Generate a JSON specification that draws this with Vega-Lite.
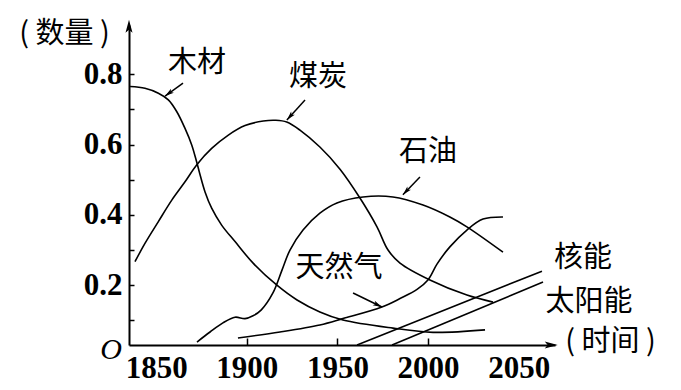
{
  "$schema": "https://vega.github.io/schema/vega-lite/v6.json",
  "width": 426,
  "height": 320,
  "autosize": {"type": "none"},
  "padding": {"left": 129, "top": 25, "right": 126, "bottom": 45},
  "background": "white",
  "config": {"view": {"stroke": null}},
  "datasets": {
    "curves": [
      {"s": "木材", "year": 1835.6, "v": 0.765},
      {"s": "木材", "year": 1843.8, "v": 0.76},
      {"s": "木材", "year": 1851.2, "v": 0.746},
      {"s": "木材", "year": 1856.7, "v": 0.727},
      {"s": "木材", "year": 1861.3, "v": 0.694},
      {"s": "木材", "year": 1865.9, "v": 0.646},
      {"s": "木材", "year": 1869.6, "v": 0.599},
      {"s": "木材", "year": 1872.3, "v": 0.551},
      {"s": "木材", "year": 1874.2, "v": 0.514},
      {"s": "木材", "year": 1876.9, "v": 0.466},
      {"s": "木材", "year": 1880.6, "v": 0.419},
      {"s": "木材", "year": 1886.1, "v": 0.371},
      {"s": "木材", "year": 1893.5, "v": 0.324},
      {"s": "木材", "year": 1903.6, "v": 0.262},
      {"s": "木材", "year": 1916.6, "v": 0.2},
      {"s": "木材", "year": 1927.7, "v": 0.158},
      {"s": "木材", "year": 1940.3, "v": 0.124},
      {"s": "木材", "year": 1953, "v": 0.101},
      {"s": "木材", "year": 1980.6, "v": 0.078},
      {"s": "木材", "year": 2002.7, "v": 0.066},
      {"s": "木材", "year": 2031.4, "v": 0.073},
      {"s": "煤炭", "year": 1838.3, "v": 0.267},
      {"s": "煤炭", "year": 1843.8, "v": 0.319},
      {"s": "煤炭", "year": 1851.2, "v": 0.381},
      {"s": "煤炭", "year": 1858.6, "v": 0.442},
      {"s": "煤炭", "year": 1865.9, "v": 0.494},
      {"s": "煤炭", "year": 1872.3, "v": 0.542},
      {"s": "煤炭", "year": 1880.6, "v": 0.589},
      {"s": "煤炭", "year": 1889.8, "v": 0.627},
      {"s": "煤炭", "year": 1899, "v": 0.654},
      {"s": "煤炭", "year": 1909.1, "v": 0.667},
      {"s": "煤炭", "year": 1916, "v": 0.669},
      {"s": "煤炭", "year": 1922, "v": 0.664},
      {"s": "煤炭", "year": 1929.3, "v": 0.641},
      {"s": "煤炭", "year": 1940.3, "v": 0.593},
      {"s": "煤炭", "year": 1951.4, "v": 0.53},
      {"s": "煤炭", "year": 1962.4, "v": 0.448},
      {"s": "煤炭", "year": 1971.8, "v": 0.366},
      {"s": "煤炭", "year": 1977.9, "v": 0.3},
      {"s": "煤炭", "year": 1984.5, "v": 0.263},
      {"s": "煤炭", "year": 2001, "v": 0.215},
      {"s": "煤炭", "year": 2021.4, "v": 0.172},
      {"s": "煤炭", "year": 2035.8, "v": 0.152},
      {"s": "石油", "year": 1872.5, "v": 0.0385},
      {"s": "石油", "year": 1879.7, "v": 0.067},
      {"s": "石油", "year": 1886.8, "v": 0.093},
      {"s": "石油", "year": 1893.5, "v": 0.109},
      {"s": "石油", "year": 1899, "v": 0.105},
      {"s": "石油", "year": 1903.4, "v": 0.113},
      {"s": "石油", "year": 1908, "v": 0.13},
      {"s": "石油", "year": 1914.4, "v": 0.178},
      {"s": "石油", "year": 1919.4, "v": 0.243},
      {"s": "石油", "year": 1923.8, "v": 0.3},
      {"s": "石油", "year": 1931, "v": 0.357},
      {"s": "石油", "year": 1940.3, "v": 0.405},
      {"s": "石油", "year": 1949.7, "v": 0.434},
      {"s": "石油", "year": 1964.1, "v": 0.451},
      {"s": "石油", "year": 1980.6, "v": 0.451},
      {"s": "石油", "year": 1997.2, "v": 0.428},
      {"s": "石油", "year": 2012, "v": 0.394},
      {"s": "石油", "year": 2021.4, "v": 0.366},
      {"s": "石油", "year": 2041.3, "v": 0.294},
      {"s": "天然气", "year": 1895.1, "v": 0.05},
      {"s": "天然气", "year": 1918.3, "v": 0.067},
      {"s": "天然气", "year": 1940.3, "v": 0.087},
      {"s": "天然气", "year": 1953, "v": 0.105},
      {"s": "天然气", "year": 1974.5, "v": 0.138},
      {"s": "天然气", "year": 1984.5, "v": 0.162},
      {"s": "天然气", "year": 1993.9, "v": 0.188},
      {"s": "天然气", "year": 1999.9, "v": 0.215},
      {"s": "天然气", "year": 2004.9, "v": 0.26},
      {"s": "天然气", "year": 2012, "v": 0.309},
      {"s": "天然气", "year": 2021.4, "v": 0.357},
      {"s": "天然气", "year": 2030.3, "v": 0.388},
      {"s": "天然气", "year": 2041.3, "v": 0.394},
      {"s": "核能", "year": 1960.8, "v": 0.03},
      {"s": "核能", "year": 2062.8, "v": 0.24},
      {"s": "太阳能", "year": 1980.1, "v": 0.03},
      {"s": "太阳能", "year": 2063.4, "v": 0.209}
    ],
    "annot": [
      {"name": "木材", "year": 1864.8, "v": 0.775, "year2": 1854.9, "v2": 0.738},
      {"name": "煤炭", "year": 1932.1, "v": 0.727, "year2": 1922.1, "v2": 0.67},
      {"name": "石油", "year": 1995.5, "v": 0.508, "year2": 1986.1, "v2": 0.457},
      {"name": "天然气", "year": 1958.6, "v": 0.178, "year2": 1974.5, "v2": 0.138}
    ],
    "labels": [
      {"text": "木材", "year": 1872.5, "v": 0.832},
      {"text": "煤炭", "year": 1939.2, "v": 0.792},
      {"text": "石油", "year": 1999.9, "v": 0.579},
      {"text": "天然气", "year": 1950.8, "v": 0.249},
      {"text": "核能", "year": 2085.4, "v": 0.277},
      {"text": "太阳能", "year": 2088.7, "v": 0.152}
    ],
    "axisheads": [
      {"axis": "y", "year": 1835, "v": 0.955},
      {"axis": "x", "year": 2071.5, "v": 0.03}
    ],
    "origin": [{"text": "O", "year": 1825.1, "v": 0.016}]
  },
  "layer": [
    {
      "data": {"name": "curves"},
      "mark": {"type": "line", "interpolate": "catmull-rom", "color": "black", "strokeWidth": 1.6},
      "encoding": {
        "x": {
          "field": "year", "type": "quantitative",
          "scale": {"domain": [1835, 2070], "nice": false, "zero": false},
          "axis": {
            "values": [1850, 1900, 1950, 2000, 2050],
            "format": "d",
            "grid": false,
            "labelFont": "Liberation Serif", "labelFontSize": 31, "labelFontWeight": "bold", "labelColor": "black",
            "labelPadding": 15, "labelFlush": false, "labelOverlap": false,
            "domainColor": "black", "domainWidth": 2,
            "tickColor": "black", "tickWidth": 1.5, "tickSize": -7,
            "tickOpacity": {"condition": {"test": "datum.value == 1850 || datum.value == 2050", "value": 0}, "value": 1},
            "title": "( 时间 )",
            "titleFont": "Noto Sans CJK SC", "titleFontSize": 29, "titleFontWeight": "normal", "titleColor": "black",
            "titleX": 481, "titleY": -4, "titleAlign": "center", "titleBaseline": "middle"
          }
        },
        "y": {
          "field": "v", "type": "quantitative",
          "scale": {"domain": [0.03, 0.94], "nice": false, "zero": false},
          "axis": {
            "values": [0.1, 0.2, 0.3, 0.4, 0.5, 0.6, 0.7, 0.8],
            "format": ".1f",
            "labelExpr": "indexof(['0.2','0.4','0.6','0.8'], datum.label) >= 0 ? datum.label : ''",
            "grid": false,
            "labelFont": "Liberation Serif", "labelFontSize": 31, "labelFontWeight": "bold", "labelColor": "black",
            "labelPadding": 12, "labelOverlap": false,
            "domainColor": "black", "domainWidth": 2,
            "tickColor": "black", "tickWidth": 1.5, "tickSize": -5,
            "title": "( 数量 )",
            "titleFont": "Noto Sans CJK SC", "titleFontSize": 29, "titleFontWeight": "normal", "titleColor": "black",
            "titleAngle": 0, "titleX": -65, "titleY": 8, "titleAlign": "center", "titleBaseline": "middle"
          }
        },
        "detail": {"field": "s"}
      }
    },
    {
      "data": {"name": "annot"},
      "mark": {"type": "rule", "color": "black", "strokeWidth": 1.5},
      "encoding": {
        "x": {"field": "year", "type": "quantitative"},
        "y": {"field": "v", "type": "quantitative"},
        "x2": {"field": "year2"},
        "y2": {"field": "v2"}
      }
    },
    {
      "data": {"name": "annot"},
      "transform": [{"filter": "datum.name == '木材'"}],
      "mark": {"type": "point", "shape": "M0,0L-0.7,2.6L0,2L0.7,2.6Z", "filled": true, "color": "black", "opacity": 1, "size": 49, "angle": 234},
      "encoding": {"x": {"field": "year2", "type": "quantitative"}, "y": {"field": "v2", "type": "quantitative"}}
    },
    {
      "data": {"name": "annot"},
      "transform": [{"filter": "datum.name == '煤炭'"}],
      "mark": {"type": "point", "shape": "M0,0L-0.7,2.6L0,2L0.7,2.6Z", "filled": true, "color": "black", "opacity": 1, "size": 49, "angle": 222},
      "encoding": {"x": {"field": "year2", "type": "quantitative"}, "y": {"field": "v2", "type": "quantitative"}}
    },
    {
      "data": {"name": "annot"},
      "transform": [{"filter": "datum.name == '石油'"}],
      "mark": {"type": "point", "shape": "M0,0L-0.7,2.6L0,2L0.7,2.6Z", "filled": true, "color": "black", "opacity": 1, "size": 49, "angle": 223},
      "encoding": {"x": {"field": "year2", "type": "quantitative"}, "y": {"field": "v2", "type": "quantitative"}}
    },
    {
      "data": {"name": "annot"},
      "transform": [{"filter": "datum.name == '天然气'"}],
      "mark": {"type": "point", "shape": "M0,0L-0.7,2.6L0,2L0.7,2.6Z", "filled": true, "color": "black", "opacity": 1, "size": 49, "angle": 116},
      "encoding": {"x": {"field": "year2", "type": "quantitative"}, "y": {"field": "v2", "type": "quantitative"}}
    },
    {
      "data": {"name": "axisheads"},
      "transform": [{"filter": "datum.axis == 'y'"}],
      "mark": {"type": "point", "shape": "M0,0L-0.7,2.6L0,2L0.7,2.6Z", "filled": true, "color": "black", "opacity": 1, "size": 100, "angle": 0},
      "encoding": {"x": {"field": "year", "type": "quantitative"}, "y": {"field": "v", "type": "quantitative"}}
    },
    {
      "data": {"name": "axisheads"},
      "transform": [{"filter": "datum.axis == 'x'"}],
      "mark": {"type": "point", "shape": "M0,0L-0.7,2.6L0,2L0.7,2.6Z", "filled": true, "color": "black", "opacity": 1, "size": 100, "angle": 90},
      "encoding": {"x": {"field": "year", "type": "quantitative"}, "y": {"field": "v", "type": "quantitative"}}
    },
    {
      "data": {"name": "labels"},
      "mark": {"type": "text", "font": "Noto Sans CJK SC", "fontSize": 29, "color": "black", "align": "center", "baseline": "middle"},
      "encoding": {
        "x": {"field": "year", "type": "quantitative"},
        "y": {"field": "v", "type": "quantitative"},
        "text": {"field": "text"}
      }
    },
    {
      "data": {"name": "origin"},
      "mark": {"type": "text", "font": "Liberation Serif", "fontStyle": "italic", "fontSize": 30, "color": "black", "align": "center", "baseline": "middle"},
      "encoding": {
        "x": {"field": "year", "type": "quantitative"},
        "y": {"field": "v", "type": "quantitative"},
        "text": {"field": "text"}
      }
    }
  ]
}
